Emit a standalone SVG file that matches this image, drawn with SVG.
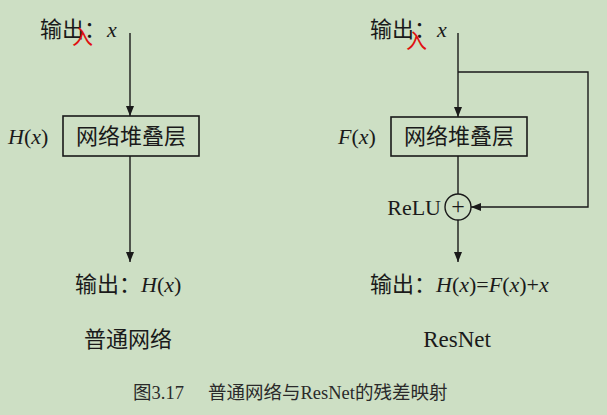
<svg xmlns="http://www.w3.org/2000/svg" width="607" height="415" viewBox="0 0 607 415">
<style>
.cn{font-family:"Liberation Serif","Noto Sans CJK SC",serif;font-size:22px;fill:#1a1a1a}
.m{font-family:"Liberation Serif","Noto Sans CJK SC",serif;font-size:22px;font-style:italic;fill:#1a1a1a}
.r{font-family:"Liberation Serif","Noto Sans CJK SC",serif;font-size:22px;fill:#1a1a1a}
.box{fill:none;stroke:#1a1a1a;stroke-width:1.6}
.ln{fill:none;stroke:#1a1a1a;stroke-width:1.4}
.cap{font-family:"Liberation Serif","Noto Sans CJK SC",serif;font-size:18.5px;fill:#2a2a2a}
.red{font-family:"Noto Sans CJK SC",sans-serif;font-size:21px;fill:#e01010}
</style>
<defs>
<marker id="ah" viewBox="0 0 10 8" refX="10" refY="4" markerWidth="10" markerHeight="8" markerUnits="userSpaceOnUse" orient="auto">
<path d="M0,0 L10,4 L0,8 Z" fill="#1a1a1a"/>
</marker>
</defs>
<rect width="607" height="415" fill="#cddfc4"/>
<g id="connectors">
<line class="ln" x1="130" y1="33" x2="130" y2="116" marker-end="url(#ah)"/>
<line class="ln" x1="130" y1="156" x2="130" y2="262" marker-end="url(#ah)"/>
<line class="ln" x1="458" y1="33" x2="458" y2="117" marker-end="url(#ah)"/>
<polyline class="ln" points="458,72 588,72 588,207 471,207" marker-end="url(#ah)"/>
<line class="ln" x1="458" y1="156" x2="458" y2="194"/>
<line class="ln" x1="458" y1="220" x2="458" y2="262" marker-end="url(#ah)"/>
</g>
<g id="left-input">
<text class="cn" x="40" y="37">输出：</text>
<text class="m" x="107" y="37">x</text>
<text class="red" x="72" y="44">入</text>
</g>
<g id="left-box">
<rect class="box" x="63" y="116" width="136" height="40"/>
<text class="cn" x="131" y="144" text-anchor="middle">网络堆叠层</text>
<text x="8" y="144"><tspan class="m">H</tspan><tspan class="r">(</tspan><tspan class="m">x</tspan><tspan class="r">)</tspan></text>
</g>
<g id="left-output">
<text x="75" y="292"><tspan class="cn">输出：</tspan><tspan class="m">H</tspan><tspan class="r">(</tspan><tspan class="m">x</tspan><tspan class="r">)</tspan></text>
<text class="cn" x="128" y="347" text-anchor="middle">普通网络</text>
</g>
<g id="right-input">
<text class="cn" x="370" y="37">输出：</text>
<text class="m" x="437" y="37">x</text>
<text class="red" x="406" y="48">入</text>
</g>
<g id="right-box">
<rect class="box" x="391" y="117" width="136" height="39"/>
<text class="cn" x="459" y="144" text-anchor="middle">网络堆叠层</text>
<text x="338" y="144"><tspan class="m">F</tspan><tspan class="r">(</tspan><tspan class="m">x</tspan><tspan class="r">)</tspan></text>
</g>
<g id="relu">
<circle cx="458" cy="207" r="13" fill="none" stroke="#1a1a1a" stroke-width="1.4"/>
<text class="r" x="458" y="214" text-anchor="middle" style="font-size:24px">+</text>
<text class="r" x="441" y="215" text-anchor="end">ReLU</text>
</g>
<g id="right-output">
<text x="370" y="292"><tspan class="cn">输出：</tspan><tspan class="m">H</tspan><tspan class="r">(</tspan><tspan class="m">x</tspan><tspan class="r">)=</tspan><tspan class="m">F</tspan><tspan class="r">(</tspan><tspan class="m">x</tspan><tspan class="r">)+</tspan><tspan class="m">x</tspan></text>
<text class="r" x="457" y="347" text-anchor="middle" style="font-size:23px">ResNet</text>
</g>
<g id="caption">
<text class="cap" x="133" y="399">图3.17<tspan x="208">普通网络与ResNet的残差映射</tspan></text>
</g>
</svg>
